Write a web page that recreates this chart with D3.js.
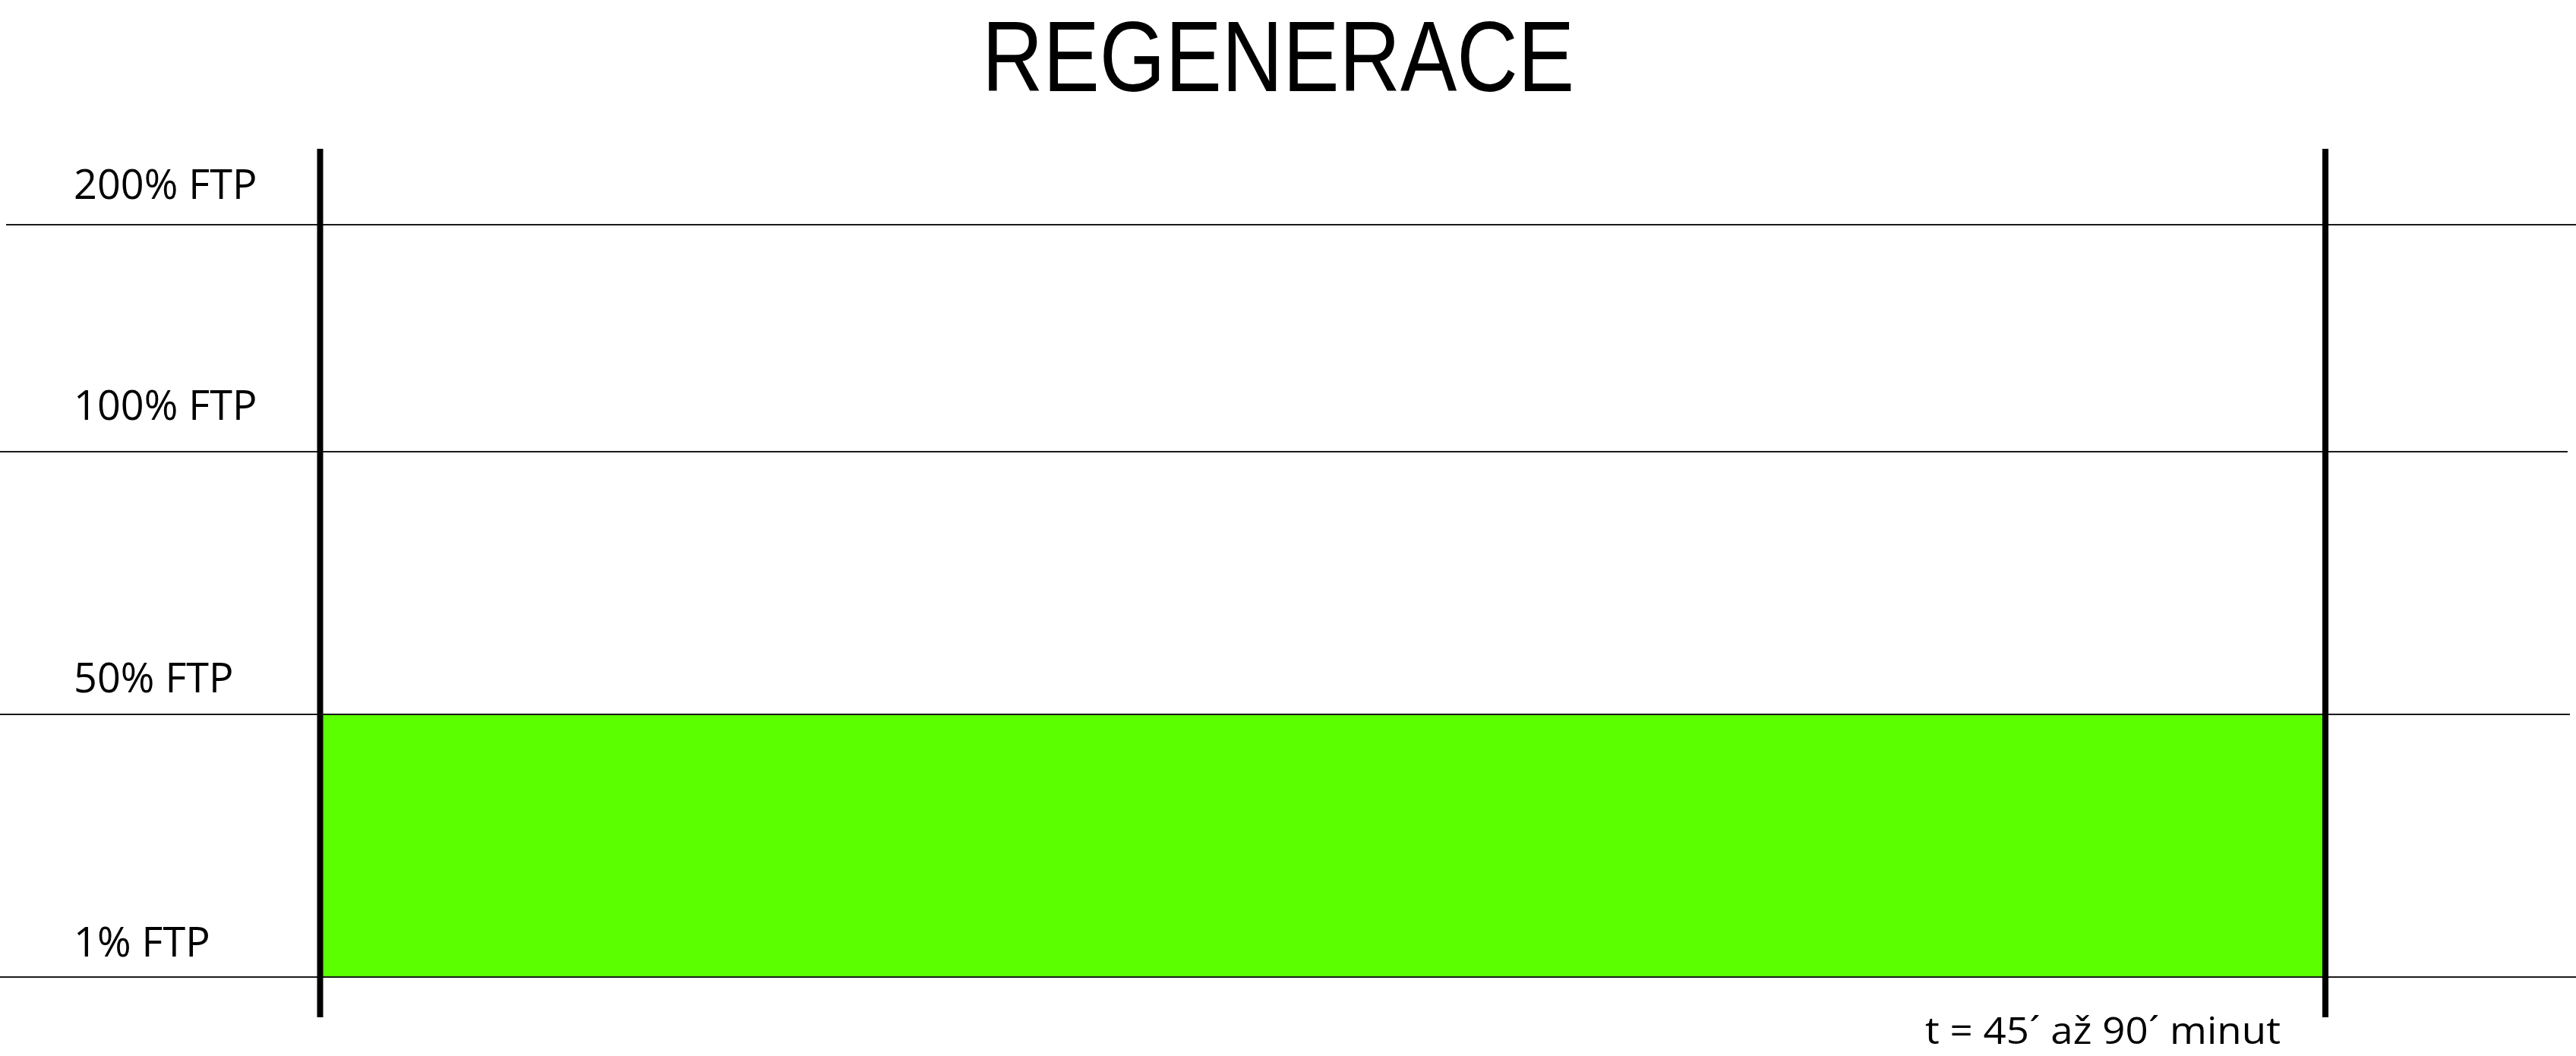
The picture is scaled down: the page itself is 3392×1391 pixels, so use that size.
<!DOCTYPE html>
<html>
<head>
<meta charset="utf-8">
<script src="https://cdn.jsdelivr.net/npm/d3@7"></script>
<style>
  html, body { margin: 0; padding: 0; background: #fff; }
  svg { display: block; }
</style>
</head>
<body>
<svg id="chart" width="3392" height="1391"></svg>
<script>
// ---- data ----
const title = "REGENERACE";
const levels = [200, 100, 50, 1];                 // % FTP reference lines
const levelLabels = ["200% FTP", "100% FTP", "50% FTP", "1% FTP"];
const zoneLow = [1];                               // green zone lower bound (% FTP)
const zoneHigh = [50];                             // green zone upper bound (% FTP)
const intervalBounds = [0, 1];                     // start / end of interval
const timeLabel = "t = 45\u00B4 a\u017E 90\u00B4 minut";

// ---- styles / layout ----
const green = "#5BFF00";
const labelDy = [34, 42, 29, 27];
const lineStarts = [8, 0, 0, 0];
const lineEnds = [3392, 3381, 3384, 3392];

const svg = d3.select("#chart");

const y = d3.scaleLinear()
  .domain([1, 50, 100, 200])
  .range([1287, 941, 595, 296]);

const x = d3.scaleLinear()
  .domain([0, 1])
  .range([421.5, 3062]);

// title
svg.append("text")
  .attr("x", 1683)
  .attr("y", 120)
  .attr("text-anchor", "middle")
  .attr("font-family", "'Liberation Sans', Arial, sans-serif")
  .attr("font-size", 131)
  .attr("textLength", 780)
  .attr("lengthAdjust", "spacingAndGlyphs")
  .attr("fill", "#000")
  .text(title);

// green zone
svg.selectAll("rect.zone")
  .data(zoneLow.map((d, i) => ({ lo: d, hi: zoneHigh[i] })))
  .join("rect")
  .attr("class", "zone")
  .attr("x", x(intervalBounds[0]))
  .attr("width", x(intervalBounds[1]) - x(intervalBounds[0]))
  .attr("y", d => y(d.hi))
  .attr("height", d => y(d.lo) - y(d.hi))
  .attr("fill", green);

// horizontal reference lines
svg.selectAll("line.level")
  .data(levels)
  .join("line")
  .attr("class", "level")
  .attr("x1", (d, i) => lineStarts[i])
  .attr("x2", (d, i) => lineEnds[i])
  .attr("y1", d => y(d))
  .attr("y2", d => y(d))
  .attr("stroke", "#1a1a1a")
  .attr("stroke-width", 2);

// labels
svg.selectAll("text.level")
  .data(levels)
  .join("text")
  .attr("class", "level")
  .attr("x", 97)
  .attr("y", (d, i) => y(d) - labelDy[i])
  .attr("font-family", "'Open Sans', sans-serif")
  .attr("font-size", 54)
  .attr("fill", "#000")
  .text((d, i) => levelLabels[i]);

// vertical interval boundaries
svg.selectAll("line.bound")
  .data(intervalBounds)
  .join("line")
  .attr("class", "bound")
  .attr("x1", d => x(d))
  .attr("x2", d => x(d))
  .attr("y1", 196)
  .attr("y2", 1340)
  .attr("stroke", "#000")
  .attr("stroke-width", 8);

// time label
svg.append("text")
  .attr("x", 2535)
  .attr("y", 1375)
  .attr("font-family", "'Open Sans', sans-serif")
  .attr("font-size", 50)
  .attr("textLength", 468)
  .attr("lengthAdjust", "spacingAndGlyphs")
  .attr("fill", "#000")
  .text(timeLabel);
</script>
</body>
</html>
